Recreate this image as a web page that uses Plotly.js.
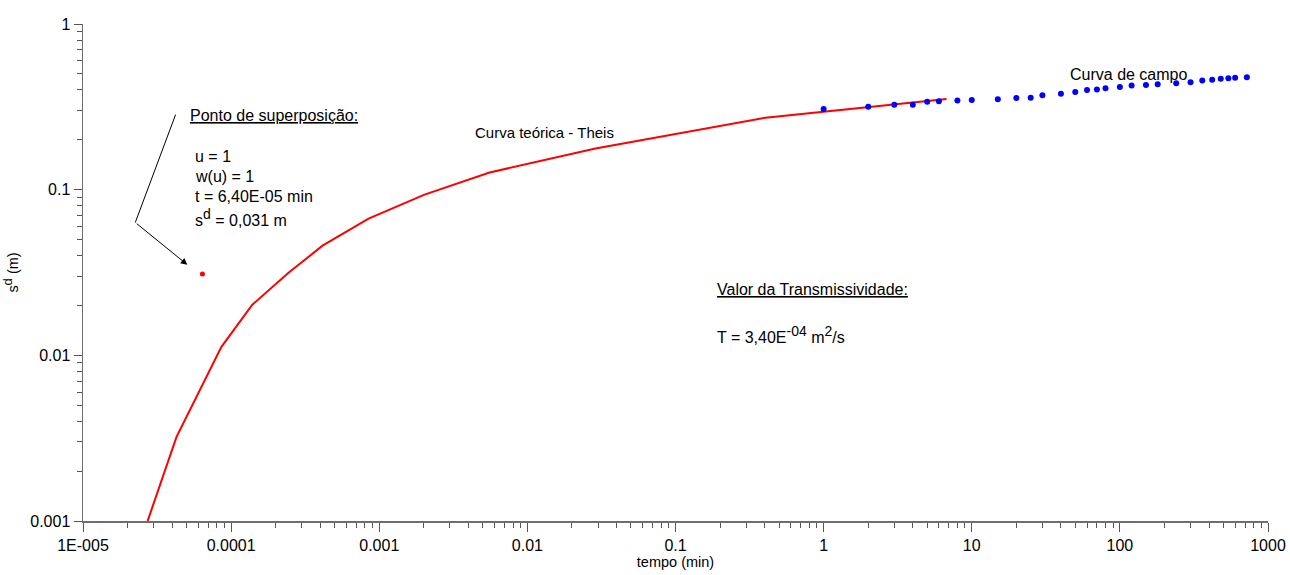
<!DOCTYPE html>
<html>
<head>
<meta charset="utf-8">
<script src="https://cdn.plot.ly/plotly-3.0.1.min.js"></script>
<style>
  html, body { margin: 0; padding: 0; background: #ffffff; }
  #chart { width: 1290px; height: 575px; }
</style>
</head>
<body>
<div id="chart"></div>
<script>
// Theis type curve, already shifted onto the field axes (tempo, rebaixamento)
const theisTempo = [2.73e-5, 4.28e-5, 8.6e-5, 1.39e-4, 2.44e-4, 4.14e-4, 8.47e-4, 2.02e-3, 5.56e-3, 0.0288, 0.405, 6.76];
const theisSd    = [0.001, 0.00322, 0.01125, 0.0202, 0.0315, 0.0459, 0.0668, 0.0933, 0.127, 0.177, 0.272, 0.353];

// Field measurements (curva de campo)
const campoTempo = [1, 2, 3, 4, 5, 6, 8, 10, 15, 20, 25, 30, 40, 50, 60, 70, 80, 100, 120, 150, 180, 240, 300, 360, 420, 480, 540, 600, 720];
const campoSd    = [0.307, 0.317, 0.326, 0.326, 0.339, 0.342, 0.345, 0.348, 0.351, 0.358, 0.359, 0.371, 0.379, 0.389, 0.400, 0.402, 0.409, 0.417, 0.425, 0.429, 0.433, 0.439, 0.445, 0.456, 0.460, 0.467, 0.470, 0.473, 0.477];

// Match point (ponto de superposição)
const superTempo = [6.4e-5];
const superSd    = [0.031];

// Axis tick labels
const xTickVals = [1e-5, 1e-4, 1e-3, 1e-2, 0.1, 1, 10, 100, 1000];
const xTickText = ['1E-005', '0.0001', '0.001', '0.01', '0.1', '1', '10', '100', '1000'];
const yTickVals = [0.001, 0.01, 0.1, 1];
const yTickText = ['0.001', '0.01', '0.1', '1'];

const FONT = 'Liberation Sans, Arial, sans-serif';
const lg = Math.log10;

// raised index that keeps most of the body size
function sup(t, px) {
  return '<sup><span style="font-size:' + px + 'px">' + t + '</span></sup>';
}

const traces = [
  {
    x: theisTempo, y: theisSd, type: 'scatter', mode: 'lines',
    line: { color: '#ff0000', width: 2 }, hoverinfo: 'skip', showlegend: false
  },
  {
    x: campoTempo, y: campoSd, type: 'scatter', mode: 'markers',
    marker: { color: '#0000ff', size: 6 }, hoverinfo: 'skip', showlegend: false
  },
  {
    x: superTempo, y: superSd, type: 'scatter', mode: 'markers',
    marker: { color: '#ff0000', size: 5 }, hoverinfo: 'skip', showlegend: false
  }
];

function label(text, lx, ly, xanchor, size) {
  return {
    text: text, x: lx, y: ly, xref: 'x', yref: 'y',
    xanchor: xanchor || 'left', yanchor: 'middle', showarrow: false,
    font: { family: FONT, size: size || 16, color: '#000000' }
  };
}

const annotations = [
  label('<u>Ponto de superposição:</u>', -4.294, -0.553),
  label('u = 1', -4.260, -0.801),
  label('w(u) = 1', -4.260, -0.922),
  label('t = 6,40E-05 min', -4.260, -1.042),
  label('s' + sup('d', 14) + ' = 0,031 m', -4.260, -1.169),
  label('Curva teórica - Theis', -1.883, -0.656, 'center', 15),
  label('Curva de campo', 2.058, -0.305, 'center'),
  label('<u>Valor da Transmissividade:</u>', -0.735, -1.604),
  label('T = 3,40E' + sup('-04', 14) + ' m' + sup('2', 14) + '/s', -0.735, -1.876),
  {
    // lower leg of the pointer, ending with the arrow head near the match point
    x: -4.296, y: -1.453, xref: 'x', yref: 'y',
    ax: -4.647, ay: -1.198, axref: 'x', ayref: 'y',
    text: '', showarrow: true, arrowhead: 2, arrowsize: 1.3, arrowwidth: 1,
    arrowcolor: '#000000', standoff: 0, startstandoff: 0
  }
];

const shapes = [
  {
    // upper leg of the pointer, from the caption down to the elbow
    type: 'line', xref: 'x', yref: 'y',
    x0: Math.pow(10, -4.375), y0: Math.pow(10, -0.547),
    x1: Math.pow(10, -4.647), y1: Math.pow(10, -1.198),
    line: { color: '#000000', width: 1 }
  }
];

const axisCommon = {
  type: 'log', showgrid: false, zeroline: false,
  showline: true, linecolor: '#6e6e6e', linewidth: 1.5,
  ticks: 'outside', tickcolor: '#555555', tickwidth: 1,
  tickmode: 'array',
  tickfont: { family: FONT, size: 16, color: '#000000' },
  minor: { ticks: 'outside', dtick: 'D1', ticklen: 5, tickwidth: 1, tickcolor: '#555555', showgrid: false },
  mirror: false, fixedrange: true
};

const layout = {
  width: 1290, height: 575,
  margin: { l: 83, r: 22, t: 24, b: 54, pad: 0 },
  paper_bgcolor: '#ffffff', plot_bgcolor: '#ffffff',
  showlegend: false,
  xaxis: Object.assign({}, axisCommon, {
    range: [lg(1e-5), lg(1000)],
    tickvals: xTickVals, ticktext: xTickText, ticklen: 9,
    title: { text: 'tempo (min)', font: { family: FONT, size: 14.5, color: '#000000' }, standoff: 4 }
  }),
  yaxis: Object.assign({}, axisCommon, {
    range: [lg(0.001), lg(1)],
    tickvals: yTickVals, ticktext: yTickText, ticklen: 8,
    title: { text: 's' + sup('d', 13) + ' (m)', font: { family: FONT, size: 14.5, color: '#000000' }, standoff: 9 }
  }),
  annotations: annotations,
  shapes: shapes
};

Plotly.newPlot('chart', traces, layout, { displayModeBar: false, staticPlot: true });
</script>
</body>
</html>
